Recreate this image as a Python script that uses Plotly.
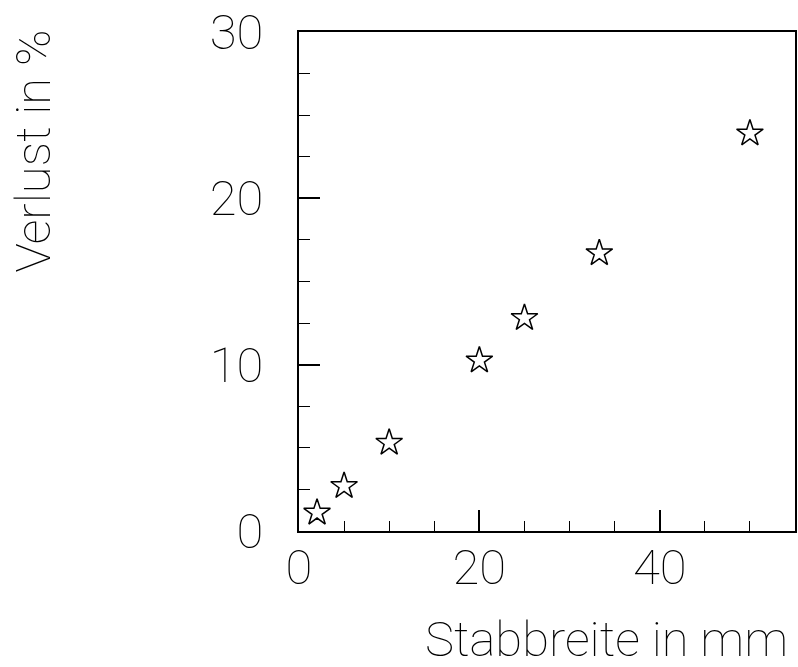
import plotly.graph_objects as go

# Data
stab_breite_mm = [2, 5, 10, 20, 25, 33.3, 50]
verlust_prozent = [1.1, 2.7, 5.3, 10.25, 12.8, 16.7, 23.9]

x_title = "Stabbreite in mm"
y_title = "Verlust in %"

FONT = "Roboto"
TXT = dict(family=FONT, size=49, color="black", weight=100)
fig = go.Figure()
fig.add_trace(go.Scatter(
    x=stab_breite_mm, y=verlust_prozent, mode="markers",
    marker=dict(symbol="star-open", size=20, color="black",
                line=dict(color="black", width=1.5)),
    showlegend=False, hoverinfo="skip",
))

axis_common = dict(
    showline=True, linecolor="black", linewidth=1.5, mirror=True,
    showgrid=False, zeroline=False, ticks="inside", tickcolor="black",
    tickwidth=1.5, ticklen=21,
    tickfont=TXT,
)

fig.update_layout(
    width=798, height=667,
    margin=dict(l=299, r=1, t=32, b=136),
    paper_bgcolor="white", plot_bgcolor="white",
    xaxis=dict(range=[0, 55], dtick=20, tick0=0,
               minor=dict(ticks="inside", dtick=5, ticklen=10, tickcolor="black", tickwidth=1),
               ticklabelstandoff=-8, **axis_common),
    yaxis=dict(range=[0, 30], dtick=10, tick0=0,
               minor=dict(ticks="inside", dtick=2.5, ticklen=11, tickcolor="black", tickwidth=1),
               ticklabelstandoff=24, **axis_common),
    annotations=[
        dict(text=x_title, xref="paper", yref="paper", x=(792 - 299) / 498, y=(531 - 639.5) / 499,
             xanchor="right", yanchor="middle", showarrow=False, font=TXT),
        dict(text=y_title, xref="paper", yref="paper", x=(32 - 299) / 498, y=(531 - 28) / 499,
             xanchor="center", yanchor="top", textangle=-90, showarrow=False, font=TXT),
    ],
)

fig.write_html("out.html")
